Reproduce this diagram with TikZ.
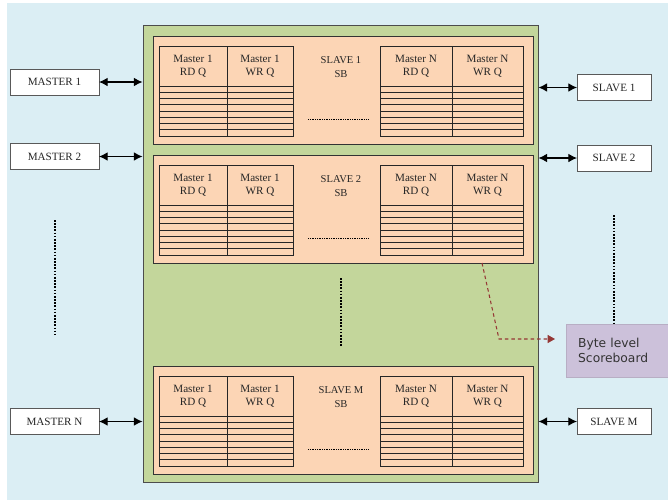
\documentclass[tikz,border=0pt]{standalone}
\usepackage{fontspec}
\setmainfont{Liberation Serif}
\newfontfamily\boardfont{DejaVu Sans}
\usepackage{xcolor}
\usetikzlibrary{arrows.meta}
\definecolor{back blue}{HTML}{DBEEF4}
\definecolor{frame green}{HTML}{C3D69B}
\definecolor{block peach}{HTML}{FCD5B5}
\definecolor{board lilac}{HTML}{CCC1DA}
\definecolor{link red}{HTML}{953735}
\tikzset{
  port box/.style={draw=black!65, fill=white, line width=0.7pt, inner sep=0pt, outer sep=0pt,
    minimum height=0.78cm, font=\fontsize{9.5}{11}\selectfont, text=black!85},
  frame box/.style={draw=black!70, fill=frame green, line width=0.8pt, inner sep=0pt,
    minimum width=11.85cm, minimum height=13.71cm},
  slave block/.style={draw=black!80, fill=block peach, line width=0.8pt, inner sep=0pt,
    minimum width=11.4cm, minimum height=3.24cm},
  queue head/.style={draw=black!85, line width=0.6pt, inner sep=0pt, outer sep=0pt,
    minimum height=1.2cm, align=center, font=\fontsize{9.5}{11.5}\selectfont, text=black!85},
  queue line/.style={draw=black!85, line width=0.6pt},
  sb label/.style={align=center, font=\fontsize{9}{11.5}\selectfont, text=black!85},
  port link/.style={line width=0.9pt, {Latex[length=2.6mm,width=2.6mm]}-{Latex[length=2.6mm,width=2.6mm]}},
  more dots/.style={line width=1.5pt, dash pattern=on 1.4pt off 1.3pt},
  row dots/.style={line width=0.8pt, dash pattern=on 0.8pt off 0.7pt},
  board box/.style={fill=board lilac, draw=board lilac!90!black, line width=0.3pt, inner xsep=0.36cm,
    minimum width=3.06cm, minimum height=1.59cm, text width=2.34cm, align=left,
    font=\boardfont\fontsize{10.5}{13}\selectfont, text=black!80},
  board link/.style={draw=link red, line width=0.9pt, dash pattern=on 3pt off 2.5pt,
    -{Triangle[length=2.2mm,width=2.4mm]}}
}

\begin{document}
\begin{tikzpicture}[x=0.03cm, y=-0.03cm]
  \useasboundingbox (0,0) rectangle (668,500);
  \fill[back blue] (7,3) rectangle (668,500);

  % bridge
  \node[frame box] (frame) at (340.5,253.5) {};

  % one scoreboard block per slave
  \foreach \top/\sl/\id in {36/1/a, 155/2/b, 366/M/c}{
    \node[slave block] (blk-\id) at (343,{\top+54}) {};
    \node[sb label] (sb-\id) at (341,{\top+31}) {SLAVE \sl\\SB};
    \foreach \xa/\xb/\who/\kind/\q in {159/227/1/RD/1, 227/293/1/WR/2, 380/452/N/RD/3, 452/523/N/WR/4}{
      \node[queue head, minimum width={(\xb-\xa)*0.03cm}] (q-\id-\q) at ({(\xa+\xb)/2},{\top+30}) {Master \who\\\kind\ Q};
      \draw[queue line] (\xa,{\top+50}) rectangle (\xb,{\top+100});
      \foreach \k in {1,...,7}
        \draw[queue line] (\xa,{\top+50+\k*6.25}) -- (\xb,{\top+50+\k*6.25});
    }
    \draw[row dots] (308,{\top+83}) -- (368,{\top+83});
  }

  % masters
  \node[port box, minimum width=2.67cm] (m1) at (54.5,82) {MASTER 1};
  \node[port box, minimum width=2.67cm] (m2) at (54.5,156.5) {MASTER 2};
  \node[port box, minimum width=2.67cm] (mn) at (54.5,421.5) {MASTER N};

  % slaves
  \node[port box, minimum width=2.22cm] (s1) at (614,87.5) {SLAVE 1};
  \node[port box, minimum width=2.22cm] (s2) at (614,158) {SLAVE 2};
  \node[port box, minimum width=2.22cm] (sm) at (614,421.5) {SLAVE M};

  \draw[port link] (m1.east) -- (m1.east -| frame.west);
  \draw[port link] (m2.east) -- (m2.east -| frame.west);
  \draw[port link] (mn.east) -- (mn.east -| frame.west);
  \draw[port link] (s1.west -| frame.east) -- (s1.west);
  \draw[port link] (s2.west -| frame.east) -- (s2.west);
  \draw[port link] (sm.west -| frame.east) -- (sm.west);

  % vertical dots
  \draw[more dots] (55,220) -- (55,335);
  \draw[more dots] (341,278) -- (341,347);
  \draw[more dots] (614,215) -- (614,323);

  \node[board box, anchor=west] (board) at (566,350.5) {Byte level Scoreboard};

  \coordinate (tap) at (482,263);
  \coordinate (bend) at (499,339);
  \draw[board link] (tap) -- (bend) -- ([xshift=-0.33cm]bend -| board.west);
\end{tikzpicture}
\end{document}
